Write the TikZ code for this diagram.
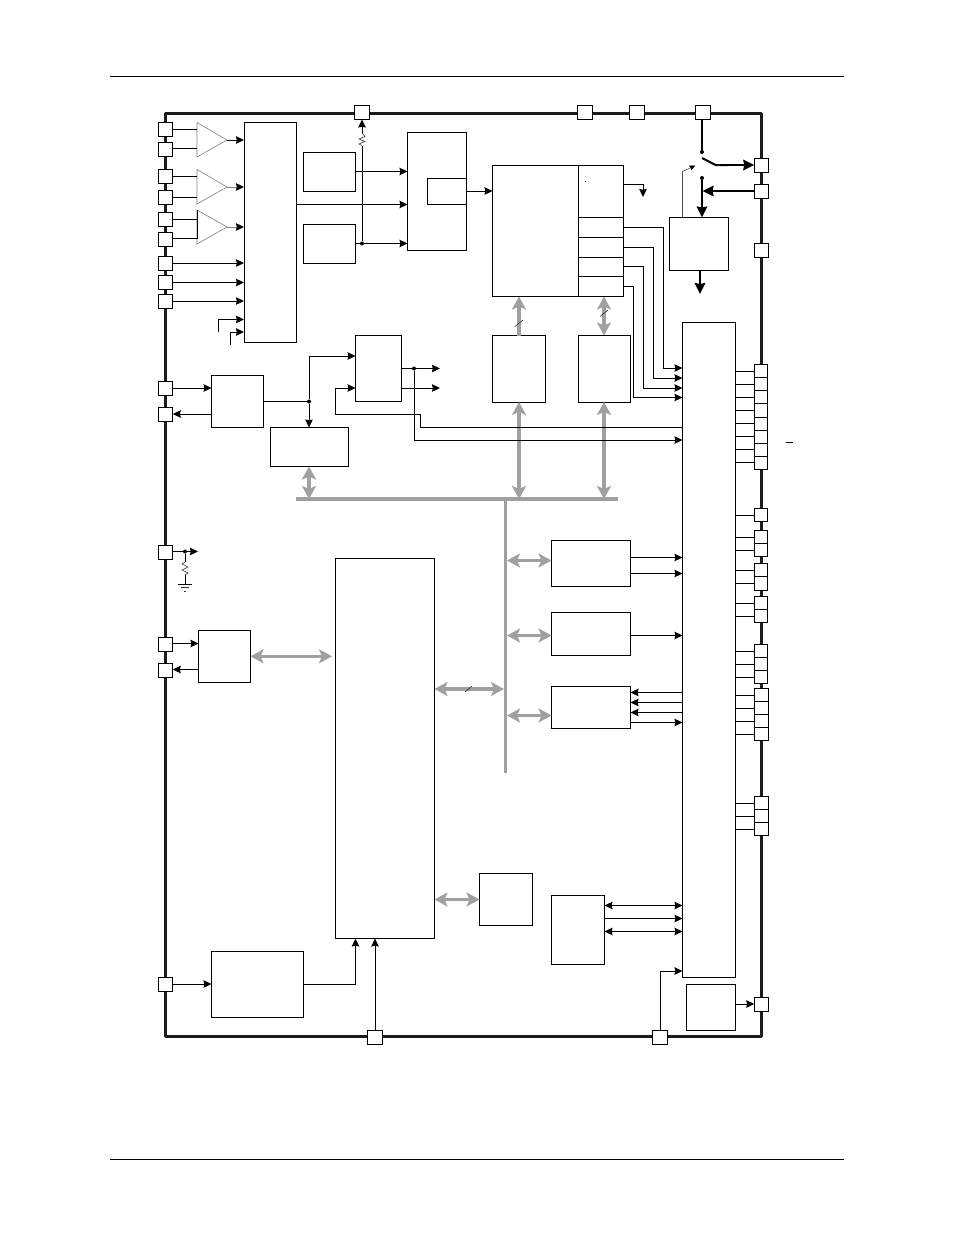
\documentclass[tikz,border=0pt]{standalone}
\usetikzlibrary{arrows.meta}
\definecolor{busgray}{HTML}{A0A0A0}
\definecolor{framek}{HTML}{1C1C1C}
\tikzset{
  box/.style={draw=black,fill=white,line width=0.9pt,inner sep=0pt,outer sep=0pt},
  pinbox/.style={draw=black,fill=white,line width=0.9pt,inner sep=0pt,outer sep=0pt},
  wire/.style={draw=black,line width=0.9pt},
  arr/.style={wire,-{Stealth[length=8pt,width=7.5pt,inset=0.8pt]}},
  darr/.style={wire,{Stealth[length=8pt,width=7.5pt,inset=0.8pt]}-{Stealth[length=8pt,width=7.5pt,inset=0.8pt]}},
  thick wire/.style={draw=black,line width=2pt},
  tarr/.style={thick wire,-{Stealth[length=11pt,width=10.5pt,inset=1pt]}},
  bus/.style={draw=busgray,line width=3.2pt},
  garr/.style={bus,-{Stealth[length=13pt,width=14pt,inset=3pt]}},
  gdbl/.style={bus,{Stealth[length=13pt,width=14pt,inset=3pt]}-{Stealth[length=13pt,width=14pt,inset=3pt]}},
  amp/.style={draw=gray,fill=white,line width=0.6pt},
  jdot/.style={circle,fill=black,inner sep=0pt,minimum size=4pt},
  res/.style={draw=black!80,line width=0.6pt},
  slash/.style={draw=black!80,line width=0.6pt},
}
\newcommand\bx[5]{\node[box,minimum width={(#4-#2)*1pt},minimum height={(#5-#3)*1pt}] (#1) at ({(#2+#4)/2},{(#3+#5)/2}) {};}
\newcommand\pinb[3]{\node[pinbox,minimum width=14.5pt,minimum height=14pt] (#1) at (#2,#3) {};}
\newcommand\cel[5]{\node[pinbox,minimum width={(#3-#2)*1pt},minimum height={(#5-#4)*1pt}] (#1) at ({(#2+#3)/2},{(#4+#5)/2}) {};}
\begin{document}
\begin{tikzpicture}[x=1pt,y=-1pt]
\useasboundingbox (0,0) rectangle (954,1235);
\fill[white] (0,0) rectangle (954,1235);
% page rules
\coordinate (ruleTL) at (110,76.5); \coordinate (ruleTR) at (844,76.5);
\coordinate (ruleBL) at (110,1159); \coordinate (ruleBR) at (844,1159);
\draw[black,line width=0.7pt] (ruleTL) -- (ruleTR);
\draw[black,line width=0.7pt] (ruleBL) -- (ruleBR);
% chip frame
\draw[framek,line width=3pt,line join=round] (165,113) rectangle (761,1036);

% boxes
\bx{main}{244}{122.5}{296.5}{342}
\bx{osca}{303.5}{152.5}{355.5}{191}
\bx{oscb}{303.5}{224.5}{355.5}{263}
\bx{clk}{407.5}{132.5}{466}{250}
\bx{clkin}{427.5}{178.5}{466}{204}
\bx{cpu}{492.5}{165.5}{578}{296.5}
\bx{cpr}{578}{165.5}{623.5}{217}
\bx{cpra}{578}{217}{623.5}{237}
\bx{cprb}{578}{237}{623.5}{257}
\bx{cprc}{578}{257}{623.5}{276}
\bx{cprd}{578}{276}{623.5}{296.5}
\bx{reg}{669.5}{217.5}{728}{270}
\bx{flash}{492.5}{335.5}{545.5}{402}
\bx{ram}{578.5}{335.5}{630.5}{402}
\bx{mux}{355.5}{335.5}{401.5}{401.5}
\bx{uart}{211.5}{375.5}{263.5}{427.5}
\bx{tim}{270.5}{427.5}{348.5}{466}
\bx{gpio}{682.5}{322.5}{735.5}{977}
\bx{pa}{551.5}{540.5}{630.5}{586}
\bx{pb}{551.5}{612.5}{630.5}{655.5}
\bx{pc}{551.5}{686.5}{630.5}{728.5}
\bx{mem}{335.5}{558.5}{434.5}{938.5}
\bx{usb}{198.5}{630.5}{250.5}{682.5}
\bx{sram}{479.5}{873.5}{532.5}{925.5}
\bx{spi}{551.5}{895.5}{604.5}{964.5}
\bx{pll}{211.5}{951.5}{303.5}{1017.5}
\bx{ldo}{686.5}{984.5}{735.5}{1030.5}

% wires and buses
\draw[bus] (296,499) -- (618,499);
\coordinate (busV) at (505.5,500);
\coordinate (busVend) at (505.5,773);
\draw[bus] (busV) -- (busVend);
\coordinate (busTim) at (309,499);
\coordinate (busFl) at (519,499);
\coordinate (busRam) at (604,499);
\draw[gdbl] (309,466.5) -- (busTim);
\draw[gdbl] (flash.south -| busFl) -- (busFl);
\draw[gdbl] (ram.south -| busRam) -- (busRam);
\draw[garr] (flash.north -| busFl) -- (busFl |- cpu.south);
\draw[gdbl] (ram.north -| busRam) -- (busRam |- cpu.south);
\draw[slash] (515,326.5) -- (523,320);
\draw[slash] (600,316.5) -- (608,310);
\draw[gdbl] (250.5,656.3) -- (332,656.3);
\draw[gdbl] (mem.east |- 0,689) -- (504,689);
\draw[slash] (465,692) -- (472,686);
\draw[gdbl] (507,560.5) -- (pa.west |- 0,560.5);
\draw[gdbl] (507,635.5) -- (pb.west |- 0,635.5);
\draw[gdbl] (507,715.5) -- (pc.west |- 0,715.5);
\draw[gdbl] (mem.east |- sram.west) -- (sram.west);

% pins, left side
\pinb{l1}{165.5}{129}
\pinb{l2}{165.5}{149}
\pinb{l3}{165.5}{176}
\pinb{l4}{165.5}{197}
\pinb{l5}{165.5}{219}
\pinb{l6}{165.5}{239}
\pinb{l7}{165.5}{263}
\pinb{l8}{165.5}{282.5}
\pinb{l9}{165.5}{301}
\pinb{l10}{165.5}{388}
\pinb{l11}{165.5}{414}
\pinb{l12}{165.5}{552}
\pinb{l13}{165.5}{644}
\pinb{l14}{165.5}{670}
\pinb{l15}{165.5}{984}
% pins, top and bottom
\pinb{t1}{362}{112.5}
\pinb{t2}{585}{112.5}
\pinb{t3}{637}{112.5}
\pinb{t4}{703}{112.5}
\pinb{b1}{375}{1037}
\pinb{b2}{660}{1037}
% pins, right side
\pinb{r1}{761.5}{165}
\pinb{r2}{761.5}{191}
\pinb{r3}{761.5}{250}
\pinb{r4}{761.5}{1004}
% cells, right side
\cel{ca1}{754.5}{767.5}{364.5}{377.5}
\cel{ca2}{754.5}{767.5}{377.5}{390.5}
\cel{ca3}{754.5}{767.5}{390.5}{403.5}
\cel{ca4}{754.5}{767.5}{403.5}{417}
\cel{ca5}{754.5}{767.5}{417}{430}
\cel{ca6}{754.5}{767.5}{430}{443}
\cel{ca7}{754.5}{767.5}{443}{456}
\cel{ca8}{754.5}{767.5}{456}{469.5}
\cel{cb1}{754.5}{767.5}{508.5}{521.5}
\cel{cc1}{754.5}{767.5}{530.5}{543.5}
\cel{cc2}{754.5}{767.5}{543.5}{556.5}
\cel{cd1}{754.5}{767.5}{563.5}{576.5}
\cel{cd2}{754.5}{767.5}{576.5}{590}
\cel{ce1}{754.5}{767.5}{596.5}{609.5}
\cel{ce2}{754.5}{767.5}{609.5}{622.5}
\cel{cf1}{754.5}{767.5}{644.5}{657.5}
\cel{cf2}{754.5}{767.5}{657.5}{670.5}
\cel{cf3}{754.5}{767.5}{670.5}{683.5}
\cel{cg1}{754.5}{768.5}{688.5}{701.5}
\cel{cg2}{754.5}{768.5}{701.5}{714.5}
\cel{cg3}{754.5}{768.5}{714.5}{727.5}
\cel{cg4}{754.5}{768.5}{727.5}{740.5}
\cel{ch1}{754.5}{768.5}{796.5}{809.5}
\cel{ch2}{754.5}{768.5}{809.5}{822.5}
\cel{ch3}{754.5}{768.5}{822.5}{835.5}
\foreach \c in {ca1,ca2,ca3,ca4,ca5,ca6,ca7,ca8,cb1,cc1,cc2,cd1,cd2,ce1,ce2,cf1,cf2,cf3,cg1,cg2,cg3,cg4,ch1,ch2,ch3}
  \draw[wire] (\c.west) -- (gpio.east |- \c.west);

% amplifiers
\coordinate (ampA) at (197,140); \coordinate (tipA) at (227,140);
\coordinate (ampB) at (197,187); \coordinate (tipB) at (227,187);
\coordinate (ampC) at (197,227); \coordinate (tipC) at (227,227);
\draw[amp] (197,122.5) -- (tipA) -- (197,157) -- cycle;
\draw[amp] (197,169.5) -- (tipB) -- (197,204) -- cycle;
\draw[amp] (197,210) -- (tipC) -- (197,244) -- cycle;
\draw[wire] (l1.east) -- (ampA |- l1);
\draw[wire] (l2.east |- 0,148.3) -- (197,148.3);
\draw[wire] (l3.east) -- (ampB |- l3);
\draw[wire] (l4.east) -- (ampB |- l4);
\draw[wire] (l5.east) -- (ampC |- l5);
\draw[wire] (l6.east |- 0,238.5) -- (197,238.5);
\draw[wire] (197,210) -- (197,238.5);
\draw[arr] (tipA) -- (main.west |- tipA);
\draw[arr,draw=gray,-{Stealth[length=8pt,width=7.5pt,inset=0.8pt,black]}] (tipB) -- (main.west |- tipB);
\draw[arr,draw=gray,-{Stealth[length=8pt,width=7.5pt,inset=0.8pt,black]}] (tipC) -- (main.west |- tipC);
\draw[arr] (l7.east) -- (main.west |- l7);
\draw[arr] (l8.east) -- (main.west |- l8);
\draw[arr] (l9.east) -- (main.west |- l9);
\coordinate (stubA) at (218.5,332); \coordinate (stubB) at (230.5,345);
\draw[arr] (stubA) |- (main.west |- 0,319.5);
\draw[arr] (stubB) |- (main.west |- 0,332);

% clock section
\draw[arr] (osca.east |- 0,171.5) -- (clk.west |- 0,171.5);
\draw[arr] (main.east |- 0,204.5) -- (clk.west |- 0,204.5);
\draw[arr] (oscb.east |- 0,243.5) -- (clk.west |- 0,243.5);
\node[jdot] (jres) at (362,243.5) {};
\draw[wire] (jres) -- (362,145.5);
\draw[res] (362,145.5) -- (359,144) -- (365,141.5) -- (359,139) -- (365,136.5) -- (362,133);
\draw[arr] (362,133) -- (t1.south);
\draw[arr] (clkin.east |- 0,191) -- (cpu.west |- 0,191);

% processor outputs
\coordinate (cprOut) at (643,184.5);
\coordinate (cprOutEnd) at (643,197);
\draw[arr] (cpr.east |- cprOut) -- (cprOut) -- (cprOutEnd);
\draw[slash] (584.6,181) -- (585.4,181);
\draw[arr] (cpra.east |- 0,227.5) -| (663.5,368) -- (gpio.west |- 0,368);
\draw[arr] (cprb.east |- 0,247.5) -| (653.5,378) -- (gpio.west |- 0,378);
\draw[arr] (cprc.east |- 0,266.5) -| (643.5,388) -- (gpio.west |- 0,388);
\draw[arr] (cprd.east |- 0,286.5) -| (633.5,397.5) -- (gpio.west |- 0,397.5);

% power switch
\node[jdot] (swA) at (702,152) {};
\node[jdot] (swB) at (702,178) {};
\draw[thick wire] (702,119.5) -- (swA);
\draw[thick wire] (702,158) -- (715.5,165) -- (728,165);
\draw[tarr] (715.5,165) -- (r1.west);
\draw[tarr] (swB) -- (reg.north -| swB);
\draw[tarr] (r2.west) -- (702.5,191);
\draw[arr,line width=0.6pt,draw=black!70,-{Stealth[length=6pt,width=5pt,inset=0.8pt,black]}] (reg.north -| 682.5,0) -- (682.5,171.5) -- (695.5,165.5);
\draw[tarr] (700,270) -- (700,294);
\coordinate (ovA) at (786,442); \coordinate (ovB) at (793,442);
\draw[wire] (ovA) -- (ovB);

% uart and timer
\draw[arr] (l10.east) -- (uart.west |- l10);
\draw[arr] (uart.west |- l11) -- (l11.east);
\node[jdot] (jt) at (309,401.5) {};
\draw[wire] (uart.east |- jt) -- (jt);
\draw[arr] (jt) |- (mux.west |- 0,356);
\draw[arr] (jt) -- (jt |- tim.north);
\coordinate (muxo1) at (440,368.5);
\coordinate (muxo2) at (440,388);
\draw[arr] (mux.east |- muxo1) -- (muxo1);
\draw[arr] (mux.east |- muxo2) -- (muxo2);
\node[jdot] (jm) at (414,368.5) {};
\draw[arr] (jm) |- (gpio.west |- 0,440);
\draw[arr] (gpio.west |- 0,427.5) -| (420.5,414) -| (335.5,388) -- (mux.west |- 0,388);

% peripherals
\draw[arr] (pa.east |- 0,557.5) -- (gpio.west |- 0,557.5);
\draw[arr] (pa.east |- 0,573.5) -- (gpio.west |- 0,573.5);
\draw[arr] (pb.east |- 0,635.5) -- (gpio.west |- 0,635.5);
\draw[arr] (gpio.west |- 0,692.5) -- (pc.east |- 0,692.5);
\draw[arr] (gpio.west |- 0,702.5) -- (pc.east |- 0,702.5);
\draw[arr] (gpio.west |- 0,712.5) -- (pc.east |- 0,712.5);
\draw[arr] (pc.east |- 0,722.5) -- (gpio.west |- 0,722.5);

% reset pin
\node[jdot] (jr) at (185,551.5) {};
\coordinate (rstEnd) at (198,551.5);
\draw[arr] (l12.east |- rstEnd) -- (rstEnd);
\draw[wire] (jr) -- (185,562);
\draw[res] (185,562) -- (182,564) -- (188,567) -- (182,570) -- (188,573) -- (185,575);
\draw[wire] (185,575) -- (185,584);
\draw[wire] (178,584) -- (192,584);
\draw[res] (181,587.5) -- (189,587.5);
\draw[res] (184,591) -- (186,591);

% usb
\draw[arr] (l13.east |- 0,643.5) -- (198.5,643.5);
\draw[arr] (usb.west |- 0,669.5) -- (l14.east |- 0,669.5);

% bottom
\draw[arr] (l15.east) -- (pll.west |- l15);
\draw[arr] (pll.east |- 0,984) -| (355.5,938.5);
\draw[arr] (b1.north) -- (375,938.5);
\draw[darr] (spi.east |- 0,905.5) -- (gpio.west |- 0,905.5);
\draw[arr] (spi.east |- 0,918.5) -- (gpio.west |- 0,918.5);
\draw[darr] (spi.east |- 0,931.5) -- (gpio.west |- 0,931.5);
\draw[arr] (b2.north) |- (gpio.west |- 0,971);
\draw[arr] (ldo.east |- r4) -- (r4.west);
\end{tikzpicture}
\end{document}
